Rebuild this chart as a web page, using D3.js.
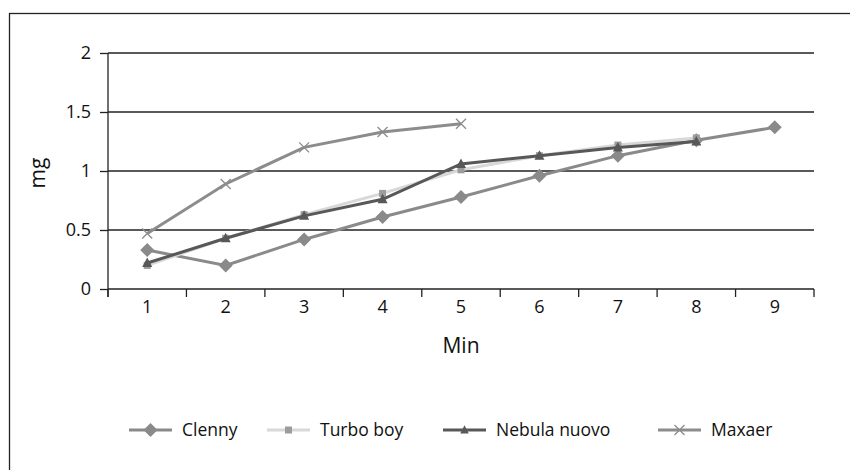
<!DOCTYPE html>
<html><head><meta charset="utf-8">
<script src="https://cdn.jsdelivr.net/npm/d3@7"></script>
<style>body{margin:0;background:#fff}svg{display:block}text{font-family:"Open Sans","Noto Sans",sans-serif;fill:#111}</style>
</head><body><svg id="c" width="850" height="470"></svg>
<script>
const categories = ["1","2","3","4","5","6","7","8","9"];
const clenny = [0.33,0.20,0.42,0.61,0.78,0.96,1.13,1.26,1.37];
const turboBoy = [0.20,0.43,0.63,0.81,1.01,1.13,1.22,1.28];
const nebulaNuovo = [0.22,0.43,0.62,0.76,1.06,1.13,1.20,1.25];
const maxaer = [0.47,0.89,1.20,1.33,1.40];
const yTicks = [0,0.5,1,1.5,2];
const seriesNames = ["Clenny","Turbo boy","Nebula nuovo","Maxaer"];

const series = [
  {name:seriesNames[0], values:clenny, color:"#8a8a8a", marker:"diamond"},
  {name:seriesNames[1], values:turboBoy, color:"#d8d8d8", marker:"square", mcolor:"#9c9c9c"},
  {name:seriesNames[2], values:nebulaNuovo, color:"#585858", marker:"triangle"},
  {name:seriesNames[3], values:maxaer, color:"#8c8c8c", marker:"x"}
];

const svg = d3.select("#c");
svg.append("rect").attr("x",9.5).attr("y",13.5).attr("width",860).attr("height",480)
  .attr("fill","none").attr("stroke","#222").attr("stroke-width",1.3);

const L=108, R=814, T=53, B=289;
const x = d3.scaleBand().domain(categories).range([L,R]);
const y = d3.scaleLinear().domain([0,2]).range([B,T]);

svg.append("g").selectAll("line").data(yTicks.filter(d=>d>0)).join("line")
  .attr("x1",L).attr("x2",R).attr("y1",d=>y(d)).attr("y2",d=>y(d))
  .attr("stroke","#222").attr("stroke-width",1.3);

const ya = svg.append("g").attr("transform",`translate(${L},0)`)
  .call(d3.axisLeft(y).tickValues(yTicks).tickSize(8).tickPadding(9).tickFormat(d=>String(d)));
ya.select(".domain").remove();
ya.selectAll(".tick line").attr("stroke","#222").attr("stroke-width",1.3);
ya.selectAll("text").attr("font-size",18).attr("font-family","Open Sans").attr("fill","#111");
svg.append("line").attr("x1",L).attr("x2",L).attr("y1",T).attr("y2",B+8).attr("stroke","#222").attr("stroke-width",1.3);

const boundaries = categories.map(c=>x(c)).concat([R]);
svg.append("line").attr("x1",L).attr("x2",R).attr("y1",B).attr("y2",B).attr("stroke","#222").attr("stroke-width",1.3);
svg.append("g").selectAll("line").data(boundaries).join("line")
  .attr("x1",d=>d).attr("x2",d=>d).attr("y1",B).attr("y2",B+8).attr("stroke","#222").attr("stroke-width",1.3);
svg.append("g").selectAll("text").data(categories).join("text")
  .attr("x",d=>x(d)+x.bandwidth()/2).attr("y",B+24).attr("text-anchor","middle")
  .attr("font-size",18).text(d=>d);

svg.append("text").attr("x",(L+R)/2).attr("y",353).attr("text-anchor","middle").attr("font-size",21).text("Min");
svg.append("text").attr("transform",`translate(45,173) rotate(-90)`).attr("text-anchor","middle").attr("font-size",21).text("mg");

function marker(g, type, cx, cy, color, s){
  s = s||1;
  if(type==="diamond"){
    const r=7*s;
    g.append("path").attr("d",`M${cx},${cy-r}L${cx+r},${cy}L${cx},${cy+r}L${cx-r},${cy}Z`).attr("fill",color);
  } else if(type==="square"){
    const r=3.5*s;
    g.append("rect").attr("x",cx-r).attr("y",cy-r).attr("width",2*r).attr("height",2*r).attr("fill",color);
  } else if(type==="triangle"){
    g.append("path").attr("d",`M${cx},${cy-5.5*s}L${cx+5*s},${cy+4*s}L${cx-5*s},${cy+4*s}Z`).attr("fill",color);
  } else {
    const r=5*s;
    g.append("path").attr("d",`M${cx-r},${cy-r}L${cx+r},${cy+r}M${cx-r},${cy+r}L${cx+r},${cy-r}`).attr("stroke",color).attr("stroke-width",1.3);
  }
}

const line = d3.line().x((d,i)=>x(categories[i])+x.bandwidth()/2).y(d=>y(d));
series.forEach(s=>{
  const g = svg.append("g");
  g.append("path").datum(s.values).attr("d",line).attr("fill","none").attr("stroke",s.color).attr("stroke-width",3);
  s.values.forEach((v,i)=>marker(g,s.marker,x(categories[i])+x.bandwidth()/2,y(v),s.mcolor||s.color));
});

const legX = [129,267,443,658];
series.forEach((s,i)=>{
  const g = svg.append("g");
  const x0 = legX[i], ly = 430;
  g.append("line").attr("x1",x0).attr("x2",x0+43).attr("y1",ly).attr("y2",ly).attr("stroke",s.color).attr("stroke-width",3);
  marker(g,s.marker,x0+21.5,ly,s.mcolor||s.color, s.marker==="triangle"?0.85:1);
  g.append("text").attr("x",x0+53).attr("y",436).attr("font-size",17.5).text(s.name);
});
</script></body></html>
